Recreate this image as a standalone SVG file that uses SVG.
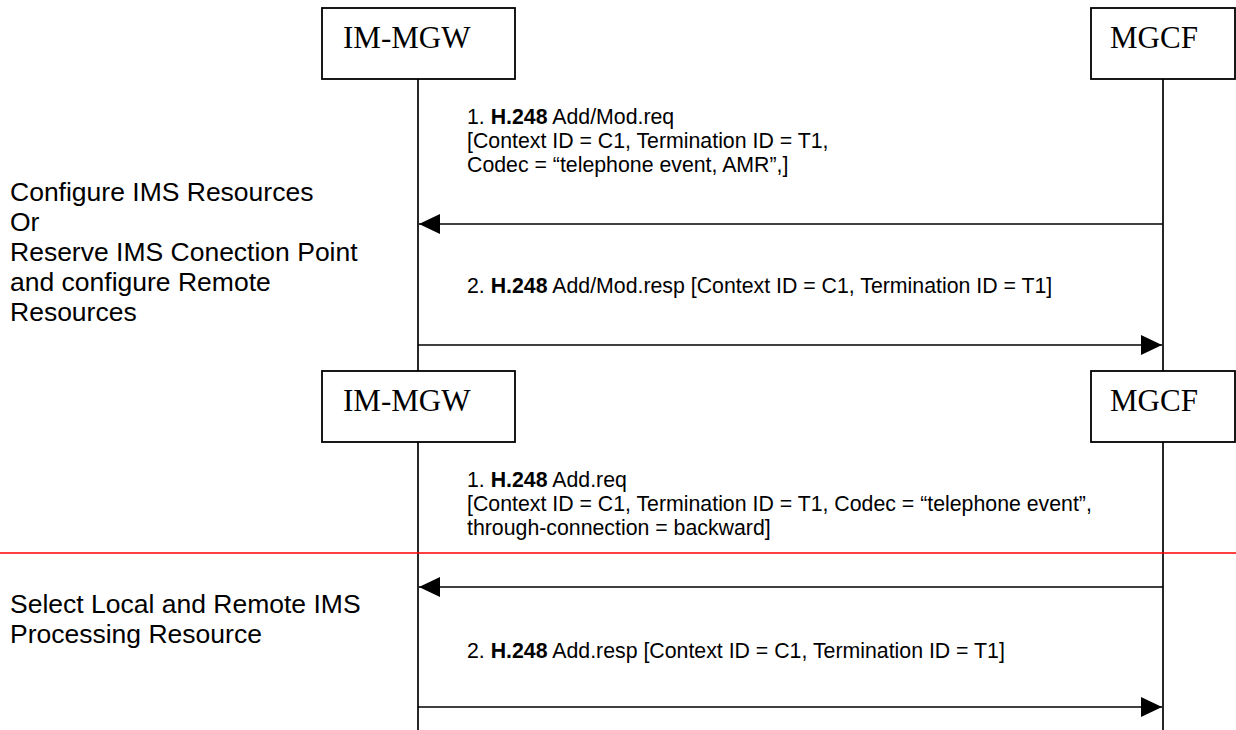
<svg xmlns="http://www.w3.org/2000/svg" width="1236" height="730" viewBox="0 0 1236 730">
<style>
.box{fill:#fff;stroke:#000;stroke-width:1.8}
.life{stroke:#000;stroke-width:1.7;fill:none}
.msg{stroke:#000;stroke-width:1.7;fill:none}
.ent{font-family:"Liberation Serif","Times New Roman",serif;font-size:31px;fill:#000}
.t{font-family:"Liberation Sans",Arial,sans-serif;font-size:21.3px;fill:#000}
.lbl{font-family:"Liberation Sans",Arial,sans-serif;font-size:26.5px;fill:#000}
.b{font-weight:bold}
</style>
<defs>
<marker id="ah" markerWidth="21" markerHeight="20" refX="21" refY="10" orient="auto" markerUnits="userSpaceOnUse">
<path d="M0,0 L21,10 L0,20 Z" fill="#000"/>
</marker>
</defs>
<rect width="1236" height="730" fill="#fff"/>
<g id="lifelines">
<line class="life" x1="418" y1="79" x2="418" y2="371"/>
<line class="life" x1="1163" y1="79" x2="1163" y2="371"/>
<line class="life" x1="418" y1="442" x2="418" y2="730"/>
<line class="life" x1="1163" y1="442" x2="1163" y2="730"/>
</g>
<g id="imMgw1"><rect class="box" x="322" y="8" width="193" height="71"/><text class="ent" x="343" y="48">IM-MGW</text></g>
<g id="mgcf1"><rect class="box" x="1091" y="8" width="144" height="71"/><text class="ent" x="1110" y="48">MGCF</text></g>
<g id="imMgw2"><rect class="box" x="322" y="371" width="193" height="71"/><text class="ent" x="343" y="411">IM-MGW</text></g>
<g id="mgcf2"><rect class="box" x="1091" y="371" width="144" height="71"/><text class="ent" x="1110" y="411">MGCF</text></g>
<g id="connectors">
<line class="msg" x1="1163" y1="224" x2="419" y2="224" marker-end="url(#ah)"/>
<line class="msg" x1="418" y1="345" x2="1162" y2="345" marker-end="url(#ah)"/>
<line class="msg" x1="1163" y1="587" x2="419" y2="587" marker-end="url(#ah)"/>
<line class="msg" x1="418" y1="707" x2="1162" y2="707" marker-end="url(#ah)"/>
</g>
<line id="separator" x1="0" y1="553" x2="1236" y2="553" stroke="#ff0000" stroke-width="1.7"/>
<g id="msgLabels">
<text class="t" x="467" y="124">1. <tspan class="b">H.248</tspan> Add/Mod.req</text>
<text class="t" x="467" y="148">[Context ID = C1, Termination ID = T1,</text>
<text class="t" x="467" y="172">Codec = “telephone event, AMR”,]</text>
<text class="t" x="467" y="293">2. <tspan class="b">H.248</tspan> Add/Mod.resp [Context ID = C1, Termination ID = T1]</text>
<text class="t" x="467" y="487">1. <tspan class="b">H.248</tspan> Add.req</text>
<text class="t" x="467" y="511">[Context ID = C1, Termination ID = T1, Codec = “telephone event”,</text>
<text class="t" x="467" y="535">through-connection = backward]</text>
<text class="t" x="467" y="658">2. <tspan class="b">H.248</tspan> Add.resp [Context ID = C1, Termination ID = T1]</text>
</g>
<g id="phaseLabels">
<text class="lbl" x="10" y="201">Configure IMS Resources</text>
<text class="lbl" x="10" y="231">Or</text>
<text class="lbl" x="10" y="261">Reserve IMS Conection Point</text>
<text class="lbl" x="10" y="291">and configure Remote</text>
<text class="lbl" x="10" y="321">Resources</text>
<text class="lbl" x="10" y="613">Select Local and Remote IMS</text>
<text class="lbl" x="10" y="643">Processing Resource</text>
</g>
</svg>
